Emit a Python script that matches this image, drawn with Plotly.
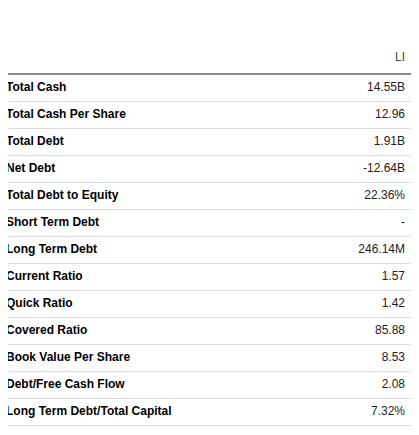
import plotly.graph_objects as go

labels = ["Total Cash", "Total Cash Per Share", "Total Debt", "Net Debt", "Total Debt to Equity",
          "Short Term Debt", "Long Term Debt", "Current Ratio", "Quick Ratio", "Covered Ratio",
          "Book Value Per Share", "Debt/Free Cash Flow", "Long Term Debt/Total Capital"]
values = ["14.55B", "12.96", "1.91B", "-12.64B", "22.36%", "-", "246.14M", "1.57", "1.42",
          "85.88", "8.53", "2.08", "7.32%"]
header = "LI"
title = "Balance Sheet (MRQ)"

W, H = 419, 435
off = 8  # page body margin
top, step = 88 - off, 27
idx = list(range(len(labels)))
font = "Liberation Sans, Arial, sans-serif"

fig = go.Figure()
fig.add_trace(go.Scatter(x=[-2]*len(labels), y=idx, text=[f"<b>{l}</b>" for l in labels], mode="text",
                         textposition="middle right", textfont=dict(size=12, color="#000", family=font),
                         hoverinfo="skip"))
fig.add_trace(go.Scatter(x=[397]*len(values), y=idx, text=values, mode="text",
                         textposition="middle left", textfont=dict(size=12, color="#222", family=font),
                         hoverinfo="skip"))
fig.add_trace(go.Scatter(x=[397], y=[(58-off-top)/step], text=[header], mode="text",
                         textposition="middle left", textfont=dict(size=12, color="#444", family=font),
                         hoverinfo="skip"))
fig.add_shape(type="line", x0=0, x1=W, y0=(74-off-top)/step, y1=(74-off-top)/step,
              line=dict(color="#8a8a8a", width=2))
for i in idx:
    fig.add_shape(type="line", x0=0, x1=W, y0=i+0.5, y1=i+0.5, line=dict(color="#dcdcdc", width=1))
fig.add_annotation(x=-3, y=(19-off-top)/step, text=title, showarrow=False, xanchor="left",
                   font=dict(size=21, color="#666", family=font))
fig.update_layout(width=W, height=H, margin=dict(l=0, r=0, t=0, b=0), showlegend=False,
                  plot_bgcolor="white", paper_bgcolor="white",
                  xaxis=dict(range=[0, W], visible=False, fixedrange=True),
                  yaxis=dict(range=[(H-top)/step, -top/step], visible=False, fixedrange=True))
fig.write_html("out.html", config={"displayModeBar": False})
